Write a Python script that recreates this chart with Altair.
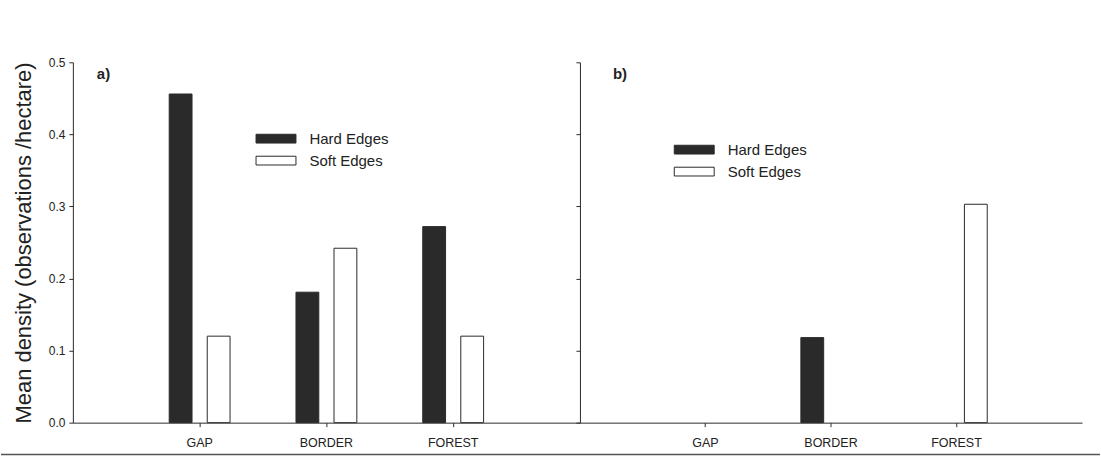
import altair as alt
import pandas as pd

# Mean density of observations per habitat class, for hard and soft edges
categories = ["GAP", "BORDER", "FOREST"]
series = ["Hard Edges", "Soft Edges"]
hard_a = [0.456, 0.181, 0.272]
soft_a = [0.120, 0.242, 0.120]
hard_b = [0.0, 0.118, 0.0]
soft_b = [0.0, 0.0, 0.303]
y_ticks = [0.0, 0.1, 0.2, 0.3, 0.4, 0.5]

FONT = "Liberation Sans"
INK = "#2a2a2a"
PLOT_H = 361


def frame(hard, soft):
    rows = []
    for c, h, s in zip(categories, hard, soft):
        rows.append({"cat": c, "series": series[0], "value": h})
        rows.append({"cat": c, "series": series[1], "value": s})
    return pd.DataFrame(rows)


def panel(df, width, tag, tag_x, legend_x, legend_y, first, rule_x0, rule_x1):
    if first:
        y_axis = alt.Axis(
            title="Mean density (observations /hectare)",
            values=y_ticks, format=".1f", tickSize=4, labelPadding=4,
            labelFontSize=12, titleFontSize=22, titleFontWeight="normal",
            titlePadding=13, titleFont=FONT, titleColor="#222",
            grid=False,
        )
    else:
        y_axis = alt.Axis(
            title=None, values=y_ticks, labels=False, tickSize=4, grid=False,
        )

    # zero-valued bars are left off so nothing is stroked along the baseline
    bars = alt.Chart(df).transform_filter("datum.value > 0").mark_bar(
        stroke=INK, strokeWidth=1,
    ).encode(
        x=alt.X(
            "cat:N", sort=categories,
            scale=alt.Scale(domain=categories, paddingInner=0.52,
                            paddingOuter=0.76),
            axis=alt.Axis(title=None, labelAngle=0, tickSize=4,
                          labelPadding=10, labelFontSize=12.5, grid=False),
        ),
        xOffset=alt.XOffset(
            "series:N", sort=series,
            scale=alt.Scale(domain=series, paddingInner=0.4, paddingOuter=0),
        ),
        y=alt.Y("value:Q", scale=alt.Scale(domain=[0, 0.5], nice=False),
                axis=y_axis),
        fill=alt.Fill(
            "series:N",
            scale=alt.Scale(domain=series, range=[INK, "white"]),
            legend=alt.Legend(
                orient="none", legendX=legend_x, legendY=legend_y,
                title=None, symbolType="M-5,-1.1H5V1.1H-5Z", symbolSize=64,
                symbolStrokeColor=INK, symbolStrokeWidth=1,
                labelFont=FONT, labelFontSize=15, labelColor="#222",
                labelOffset=26, rowPadding=6, padding=0,
            ),
        ),
    )

    label = alt.Chart(pd.DataFrame({"t": [tag]})).mark_text(
        font=FONT, fontSize=15, fontWeight="bold", color="#222",
        align="left", baseline="alphabetic",
    ).encode(text="t:N", x=alt.value(tag_x), y=alt.value(17))

    base_line = alt.Chart(pd.DataFrame({"k": [0]})).mark_rule(
        color="#555", strokeWidth=1.5,
    ).encode(x=alt.value(rule_x0), x2=alt.value(rule_x1),
             y=alt.value(PLOT_H + 32))

    return alt.layer(bars, label, base_line).properties(
        width=width, height=PLOT_H)


panel_a = panel(frame(hard_a, soft_a), 508, "a)", 24, 196, 69, True, -72, 508)
panel_b = panel(frame(hard_b, soft_b), 503, "b)", 33, 107, 80, False, 0, 521)

chart = alt.hconcat(panel_a, panel_b, spacing=0, bounds="flush").resolve_scale(
    x="independent", y="independent", fill="independent",
).resolve_legend(fill="independent").properties(
    padding={"left": 0, "top": 56, "right": 0, "bottom": 0},
    background="white",
).configure_view(strokeWidth=0).configure_axis(
    labelFont=FONT, labelColor="#222", domainColor=INK, tickColor=INK,
    domainWidth=1, tickWidth=1,
)

chart.save("out.html", embed_options={"renderer": "svg", "actions": False})
